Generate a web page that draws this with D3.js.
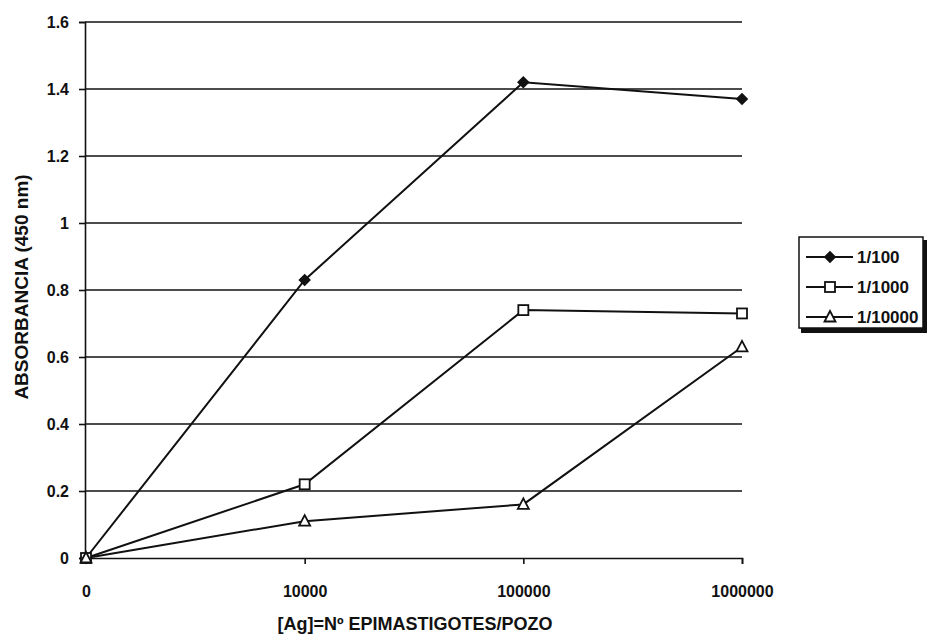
<!DOCTYPE html>
<html>
<head>
<meta charset="utf-8">
<script src="https://cdn.jsdelivr.net/npm/d3@7"></script>
<style>
  body { margin: 0; background: #fff; }
  text { font-family: "Liberation Sans", Arial, sans-serif; font-weight: bold; fill: #111; }
</style>
</head>
<body>
<div id="chart"></div>
<script>
// Data
var categories = ["0", "10000", "100000", "1000000"];
var seriesNames = ["1/100", "1/1000", "1/10000"];
var dil100 = [0, 0.83, 1.42, 1.37];
var dil1000 = [0, 0.22, 0.74, 0.73];
var dil10000 = [0, 0.11, 0.16, 0.63];
var yTicks = [0, 0.2, 0.4, 0.6, 0.8, 1, 1.2, 1.4, 1.6];

var series = [
  { name: seriesNames[0], values: dil100, marker: "diamond" },
  { name: seriesNames[1], values: dil1000, marker: "square" },
  { name: seriesNames[2], values: dil10000, marker: "triangle" }
];

// Chart size
var width = 931;
var height = 636;
var margin = { top: 22, right: 189, bottom: 78, left: 85 };
var innerWidth = width - margin.left - margin.right;
var innerHeight = height - margin.top - margin.bottom;

var svg = d3.select("#chart")
  .append("svg")
  .attr("width", width)
  .attr("height", height);

var g = svg.append("g")
  .attr("transform", "translate(" + margin.left + "," + margin.top + ")");

// Scales
var x = d3.scalePoint()
  .domain(categories)
  .range([1, innerWidth]);

var y = d3.scaleLinear()
  .domain([0, 1.6])
  .range([innerHeight, 0]);

// Gridlines
g.selectAll(".grid")
  .data(yTicks.filter(function (d) { return d > 0; }))
  .enter().append("line")
  .attr("x1", 0)
  .attr("x2", innerWidth)
  .attr("y1", function (d) { return y(d); })
  .attr("y2", function (d) { return y(d); })
  .attr("stroke", "#111")
  .attr("stroke-width", 1.4);

// Y axis
var yAxis = g.append("g")
  .call(d3.axisLeft(y).tickValues(yTicks).tickFormat(d3.format("")).tickSize(6).tickPadding(10));
yAxis.selectAll("text").style("font-size", "16px");
yAxis.selectAll("line, path").attr("stroke", "#111").attr("stroke-width", 1.6);

// X axis
var xAxis = g.append("g")
  .attr("transform", "translate(0," + innerHeight + ")")
  .call(d3.axisBottom(x).tickSize(6).tickPadding(22));
xAxis.selectAll("text").style("font-size", "16px");
xAxis.selectAll("line, path").attr("stroke", "#111").attr("stroke-width", 1.6);

// Lines
var line = d3.line()
  .x(function (d, i) { return x(categories[i]); })
  .y(function (d) { return y(d); });

g.selectAll(".series")
  .data(series)
  .enter().append("path")
  .attr("d", function (s) { return line(s.values); })
  .attr("fill", "none")
  .attr("stroke", "#111")
  .attr("stroke-width", 2);

// Markers
function drawMarker(sel, type) {
  if (type === "diamond") {
    sel.append("path")
      .attr("d", d3.symbol().type(d3.symbolDiamond2).size(100))
      .attr("fill", "#111");
  } else if (type === "square") {
    sel.append("rect")
      .attr("x", -5).attr("y", -5).attr("width", 10).attr("height", 10)
      .attr("fill", "#fff").attr("stroke", "#111").attr("stroke-width", 1.8);
  } else {
    sel.append("path")
      .attr("d", "M0,-6L5.5,4.5L-5.5,4.5Z")
      .attr("fill", "#fff").attr("stroke", "#111").attr("stroke-width", 1.8);
  }
}

series.forEach(function (s) {
  s.values.forEach(function (v, i) {
    var m = g.append("g")
      .attr("transform", "translate(" + x(categories[i]) + "," + y(v) + ")");
    drawMarker(m, s.marker);
  });
});

// Axis titles
svg.append("text")
  .attr("x", 415)
  .attr("y", 630)
  .attr("text-anchor", "middle")
  .style("font-size", "18px")
  .text("[Ag]=Nº EPIMASTIGOTES/POZO");

svg.append("text")
  .attr("transform", "translate(28," + (margin.top + innerHeight / 2 - 3) + ") rotate(-90)")
  .attr("text-anchor", "middle")
  .style("font-size", "19px")
  .text("ABSORBANCIA (450 nm)");

// Legend
var legend = svg.append("g").attr("transform", "translate(799,237)");
legend.append("rect")
  .attr("x", 2).attr("y", 3).attr("width", 126).attr("height", 93)
  .attr("fill", "#111");
legend.append("rect")
  .attr("width", 124).attr("height", 91)
  .attr("fill", "#fff").attr("stroke", "#111").attr("stroke-width", 1.5);

series.forEach(function (s, i) {
  var row = legend.append("g").attr("transform", "translate(0," + (20 + i * 30) + ")");
  row.append("line")
    .attr("x1", 7).attr("x2", 54)
    .attr("stroke", "#111").attr("stroke-width", 2);
  var m = row.append("g").attr("transform", "translate(31,0)");
  drawMarker(m, s.marker);
  row.append("text")
    .attr("x", 58).attr("y", 6)
    .style("font-size", "17px")
    .text(s.name);
});
</script>
</body>
</html>
